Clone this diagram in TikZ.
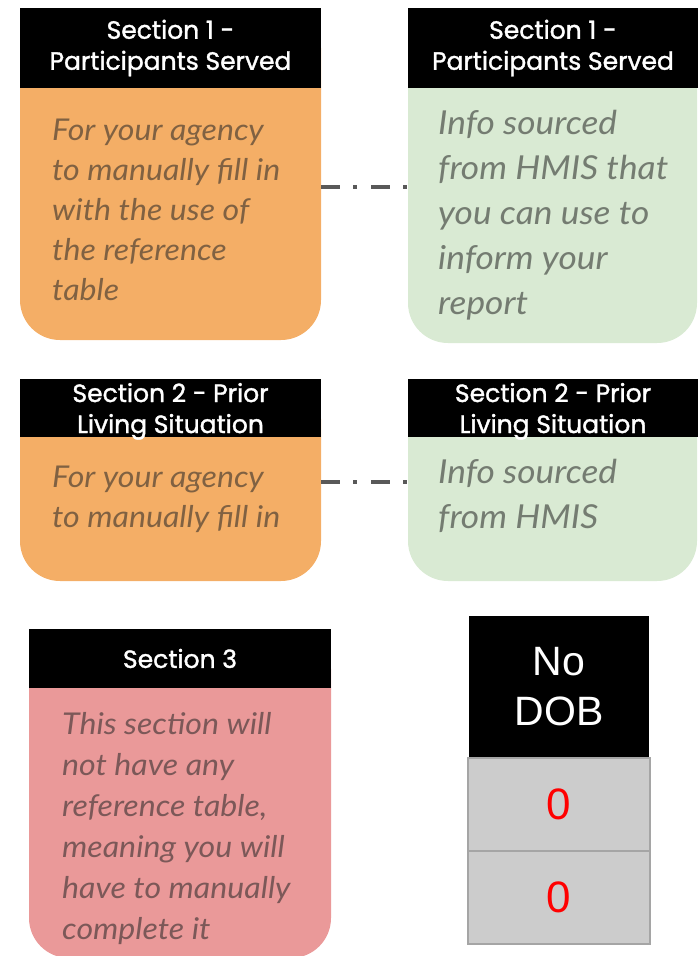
\documentclass[tikz,border=0pt]{standalone}
\usepackage{fontspec}
\setmainfont{Lato}
\newfontfamily\headfont[FakeBold=1.4]{Poppins}
\newfontfamily\notefont[FakeStretch=1.07]{Lato}
\newfontfamily\cellfont{Liberation Sans}
\usetikzlibrary{positioning}
\definecolor{orangebox}{HTML}{F4AE66}
\definecolor{greenbox}{HTML}{D9EAD3}
\definecolor{pinkbox}{HTML}{EA9999}
\definecolor{cellgray}{HTML}{CCCCCC}
\definecolor{cellline}{HTML}{A5A5A5}
\definecolor{linkgray}{HTML}{595959}
\tikzset{
  card/.style={rectangle, rounded corners=40pt, inner sep=0pt, outer sep=0pt, anchor=north west},
  header/.style={rectangle, fill=black, text=white, inner sep=0pt, outer sep=0pt, align=center, anchor=north,
    font=\headfont\fontsize{25}{31}\selectfont},
  note/.style={inner sep=0pt, align=left, text=black!85, text opacity=0.56,
    font=\notefont\itshape\fontsize{30}{40}\selectfont},
  notebig/.style={note, font=\notefont\itshape\fontsize{33}{45}\selectfont},
  link/.style={draw=linkgray, line width=4pt, dash pattern=on 19pt off 13pt on 4pt off 14pt},
  dobhead/.style={rectangle, fill=black, text=white, inner sep=0pt, outer sep=0pt, align=center,
    minimum width=180pt, minimum height=141pt, anchor=north west, font=\cellfont\fontsize{41}{50}\selectfont},
  cell/.style={rectangle, fill=cellgray, draw=cellline, line width=1.5pt, inner sep=0pt, outer sep=0pt,
    minimum width=182pt, minimum height=93pt, text=red, font=\cellfont\fontsize{44}{48}\selectfont}
}
\begin{document}
\begin{tikzpicture}[x=1pt,y=-1pt]
  \useasboundingbox (0,0) rectangle (698,956);
  \node [card, fill=orangebox, minimum width=301pt, minimum height=332pt] (b1) at (20,8) {};
  \node [header, minimum width=301pt, minimum height=80pt] (h1) at (b1.north) {Section 1 -\\Participants Served};
  \node [note, anchor=north west] (t1) [below right=31pt and 32pt of h1.south west]
    {For your agency\\to manually fill in\\with the use of\\the reference\\table};
  \node [card, fill=greenbox, minimum width=289pt, minimum height=335pt] (b2) at (408,8) {};
  \node [header, minimum width=290pt, minimum height=80pt, anchor=north west] (h2) at (b2.north west) {Section 1 -\\Participants Served};
  \node [notebig, anchor=north west] (t2) [below right=22pt and 30pt of h2.south west]
    {Info sourced\\from HMIS that\\you can use to\\inform your\\report};
  \node [card, fill=orangebox, minimum width=301pt, minimum height=202pt] (b3) at (20,379) {};
  \node [header, minimum width=301pt, minimum height=58pt, text depth=-4pt] (h3) at (b3.north) {Section 2 - Prior\\Living Situation};
  \node [note, anchor=north west] (t3) [below right=29pt and 32pt of h3.south west]
    {For your agency\\to manually fill in};
  \node [card, fill=greenbox, minimum width=289pt, minimum height=202pt] (b4) at (408,379) {};
  \node [header, minimum width=290pt, minimum height=58pt, text depth=-4pt, anchor=north west] (h4) at (b4.north west) {Section 2 - Prior\\Living Situation};
  \node [notebig, anchor=north west] (t4) [below right=22pt and 30pt of h4.south west]
    {Info sourced\\from HMIS};
  \node [card, fill=pinkbox, minimum width=302pt, minimum height=329pt] (b5) at (29,629) {};
  \node [header, minimum width=302pt, minimum height=59pt] (h5) at (b5.north) {Section 3};
  \node [note, anchor=north west, font=\notefont\itshape\fontsize{30}{41}\selectfont] (t5) [below right=24pt and 33pt of h5.south west]
    {This section will\\not have any\\reference table,\\meaning you will\\have to manually\\complete it};
  \node [dobhead] (dob) at (469,616) {No\\DOB};
  \node [cell] (c1) [below=1pt of dob] {0};
  \node [cell] (c2) [below=0pt of c1] {0};
  \draw [link] ([yshift=-13pt]b1.east) -- ([yshift=-13pt]b1.east -| b2.west);
  \draw [link] ([yshift=-2pt]b3.east) -- ([yshift=-2pt]b3.east -| b4.west);
\end{tikzpicture}
\end{document}
